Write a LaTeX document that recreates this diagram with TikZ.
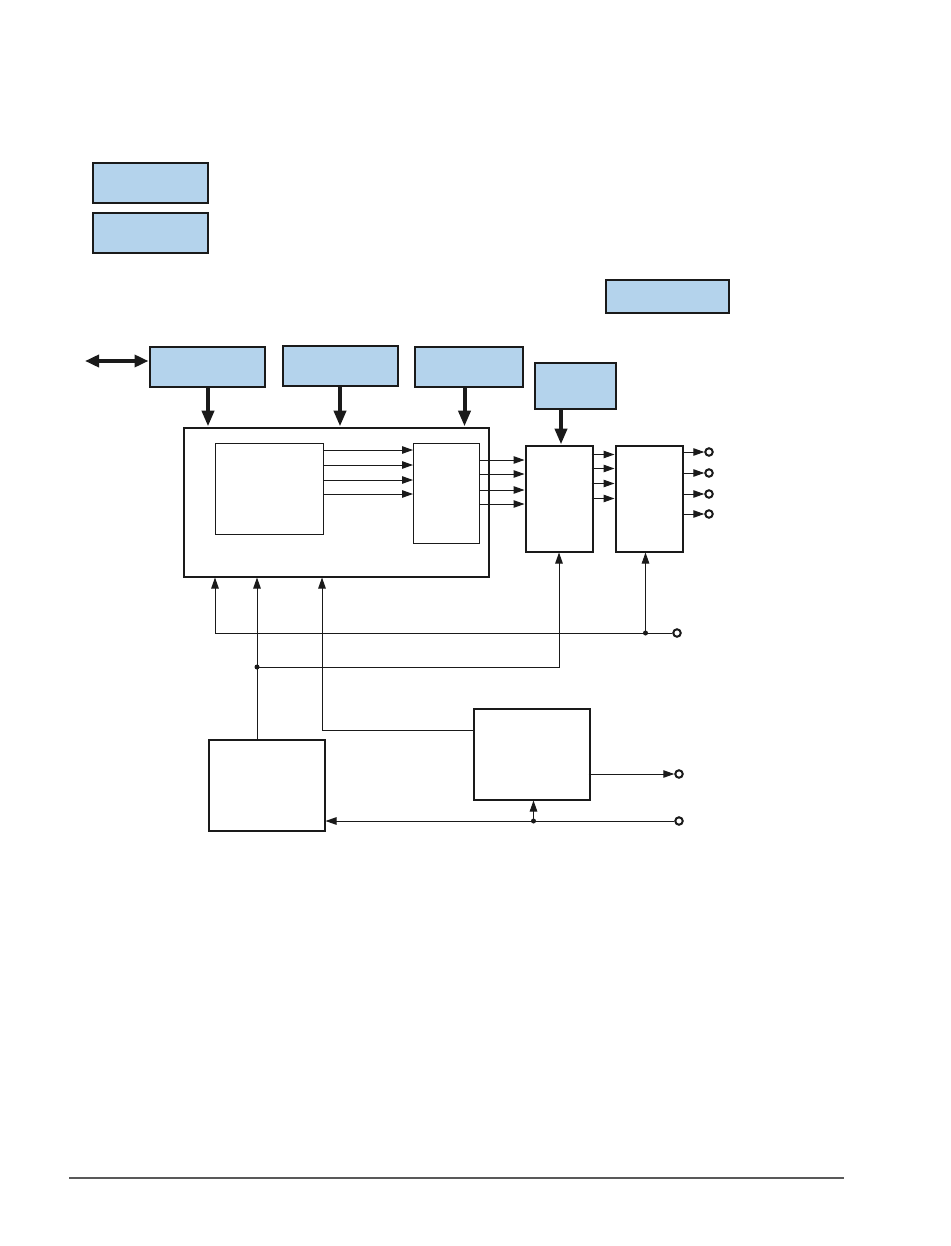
\documentclass[tikz,border=0pt]{standalone}
\usetikzlibrary{arrows.meta,calc}
\definecolor{boxblue}{HTML}{B4D3EC}
\definecolor{ink}{HTML}{1A1A1A}
\begin{document}
\begin{tikzpicture}[x=1pt,y=-1pt,
 blk/.style={draw=ink,line width=2pt,fill=white,inner sep=0pt,anchor=north west},
 bluebox/.style={blk,fill=boxblue},
 innerbox/.style={draw=ink,line width=1pt,fill=white,inner sep=0pt,anchor=north west},
 thinline/.style={draw=ink,line width=1pt},
 sig/.style={thinline,-{Triangle[length=11pt,width=7.5pt]}},
 bus/.style={draw=ink,line width=4pt,-{Triangle[length=16pt,width=12pt]}},
 dbus/.style={draw=ink,line width=4pt,{Triangle[length=14pt,width=12pt]}-{Triangle[length=14pt,width=12pt]}},
 junction/.style={circle,fill=ink,inner sep=0pt,minimum size=5pt},
 terminal/.style={circle,draw=ink,fill=white,line width=2pt,inner sep=0pt,minimum size=7.5pt}]
\useasboundingbox (0,0) rectangle (950,1246);

% blue boxes
\node[bluebox,minimum width=115pt,minimum height=40pt] (A) at (91.5,162.5) {};
\node[bluebox,minimum width=115pt,minimum height=40pt] (B) at (91.5,212.5) {};
\node[bluebox,minimum width=123pt,minimum height=32pt] (C) at (604.5,279.5) {};
\node[bluebox,minimum width=115pt,minimum height=40pt] (D) at (148.5,345.5) {};
\node[bluebox,minimum width=115pt,minimum height=40pt] (E) at (281.5,344.5) {};
\node[bluebox,minimum width=108pt,minimum height=40pt] (F) at (413.5,345.5) {};
\node[bluebox,minimum width=81pt,minimum height=46pt] (G) at (533.5,361.5) {};

% white boxes
\node[blk,minimum width=305pt,minimum height=149pt] (M) at (182.5,426.5) {};
\node[innerbox,minimum width=108pt,minimum height=91pt] (L) at (215,443) {};
\node[innerbox,minimum width=66pt,minimum height=100pt] (R) at (413,443) {};
\node[blk,minimum width=67pt,minimum height=106pt] (H) at (524.5,444.5) {};
\node[blk,minimum width=67pt,minimum height=106pt] (I) at (614.5,444.5) {};
\node[blk,minimum width=116pt,minimum height=91pt] (K) at (472.5,707.5) {};
\node[blk,minimum width=116pt,minimum height=91pt] (J) at (207.5,738.5) {};

% terminals and junctions
\node[terminal] (t1) at (709,452) {};
\node[terminal] (t2) at (709,473) {};
\node[terminal] (t3) at (709,494) {};
\node[terminal] (t4) at (709,514) {};
\node[terminal] (t5) at (677,633) {};
\node[terminal] (t6) at (679,774) {};
\node[terminal] (t7) at (679,821) {};
\node[junction] (d1) at (645.5,633) {};
\node[junction] (d2) at (257,667) {};
\node[junction] (d3) at (533.5,821) {};
\coordinate (lft) at (85,361);
\coordinate (c1) at (215,633);
\coordinate (c2) at (322,730);
\coordinate (r1) at (69,1178);
\coordinate (r2) at (844,1178);

% buses
\draw[dbus] (lft) -- (D.west |- lft);
\draw[bus] ([xshift=1pt]D.south) -- ([xshift=1pt]D.south |- M.north);
\draw[bus] (E.south) -- (E.south |- M.north);
\draw[bus] ([xshift=-4pt]F.south) -- ([xshift=-4pt]F.south |- M.north);
\draw[bus] ([xshift=-14pt]G.south) -- ([xshift=-14pt]G.south |- H.north);

% internal signals
\foreach \o in {7,22,37,51}
  \draw[sig] ($(L.north east)+(0,\o)$) coordinate (p) -- (p -| R.west);
\foreach \o in {17,31,47,61}
  \draw[sig] ($(R.north east)+(0,\o)$) coordinate (p) -- (p -| H.west);
\foreach \o in {10,24,39,54}
  \draw[sig] ($(H.north east)+(-2,\o)$) coordinate (p) -- (p -| I.west);
\draw[sig] (I.east |- t1) -- (t1.west);
\draw[sig] (I.east |- t2) -- (t2.west);
\draw[sig] (I.east |- t3) -- (t3.west);
\draw[sig] (I.east |- t4) -- (t4.west);

% lower wiring
\draw[thinline] (t5.west) -- (d1.center);
\draw[sig] (d1.center) -- (d1 |- I.south);
\draw[sig] (d1.center) -- (c1) -- (c1 |- M.south);
\draw[sig] (J.north -| d2) -- (d2 |- M.south);
\draw[sig] (d2.center) -| (H.south);
\draw[sig] (K.west |- c2) -- (c2) -- (c2 |- M.south);
\draw[sig] ([xshift=-2pt]K.east |- t6) -- (t6.west);
\draw[sig] (t7.west) -- (J.east |- t7);
\draw[sig] (d3.center) -- (d3 |- K.south);

% bottom rule
\draw[gray!70!black,line width=1.5pt] (r1) -- (r2);
\end{tikzpicture}
\end{document}
